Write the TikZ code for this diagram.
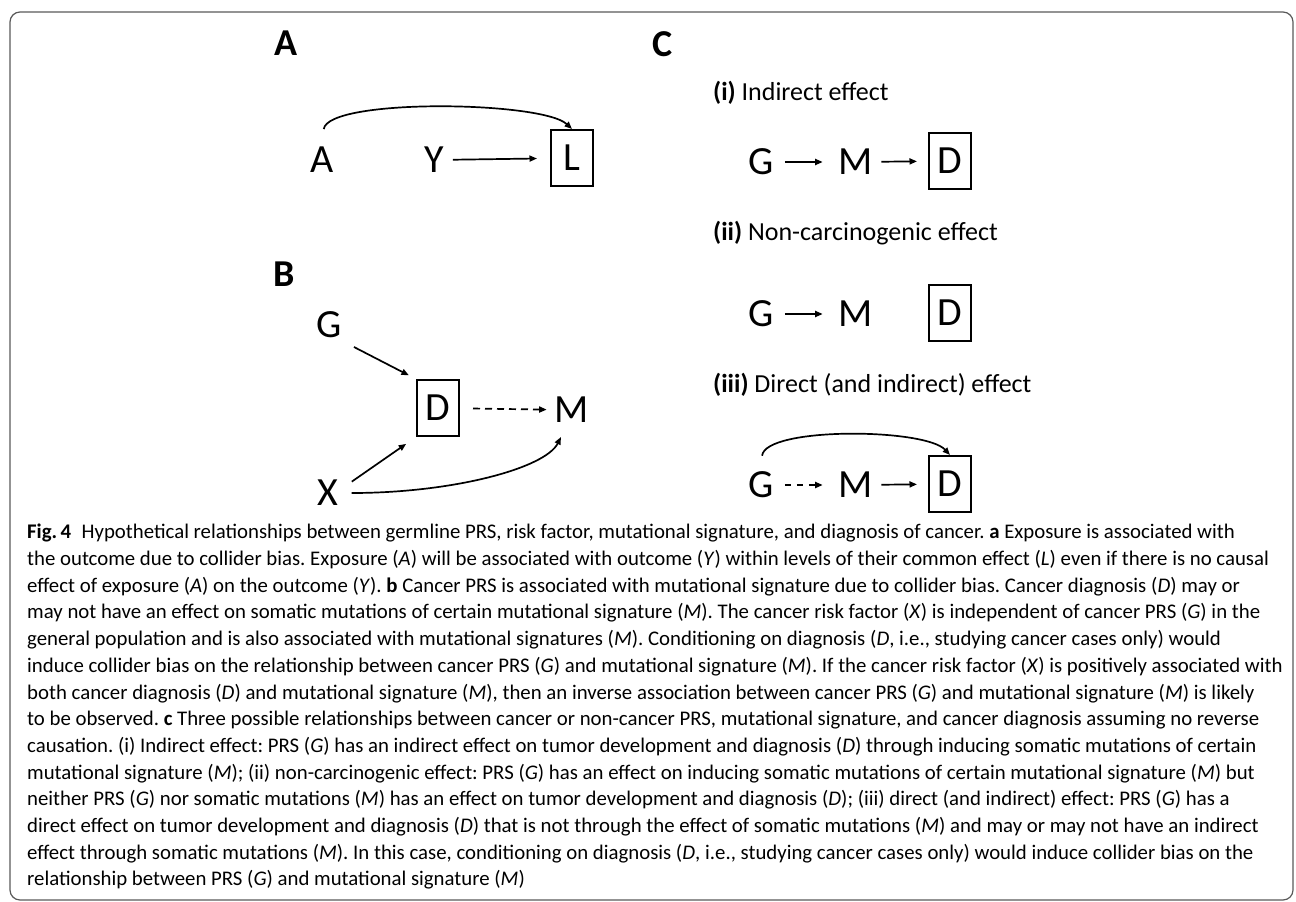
\documentclass[tikz,border=0pt]{standalone}
\usepackage{fontspec}
\setmainfont{Carlito}
\usetikzlibrary{arrows.meta}
\begin{document}
\frenchspacing
\begin{tikzpicture}[x=1pt,y=-1pt]
	\tikzstyle{var} = [font=\fontsize{40}{44}\selectfont, inner sep=5pt]
	\tikzstyle{boxed} = [var, draw, line width=2pt, minimum width=42pt, minimum height=56pt, inner sep=0pt]
	\tikzstyle{lbl} = [font=\fontsize{38}{42}\selectfont\bfseries, inner sep=0pt]
	\tikzstyle{subttl} = [font=\fontsize{26}{30}\selectfont, anchor=west, inner sep=0pt]
	\tikzstyle{arr} = [line width=1.7pt, -{Triangle[length=7.5pt,width=6pt]}]
	\tikzstyle{dsh} = [dash pattern=on 7pt off 5pt]

	\useasboundingbox (0,0) rectangle (1296,902);
	\draw [line width=1.2pt, black!65, rounded corners=10pt] (10,12) rectangle (1293,900);

	% panel A
	\node [lbl] (la) at (286,43) {A};
	\node [var] (aA) at (322,160) {A};
	\node [var] (aY) at (434,160) {Y};
	\node [boxed] (aL) at (572,158) {L};

	\draw [arr, shorten <=4pt, shorten >=13pt] (aY) -- (aL);
	\draw [arr, shorten <=13pt] (aA.north) .. controls +(6,-44) and +(-30,-28) .. (aL.north);

	% panel B
	\node [lbl] (lb) at (284,274) {B};
	\node [var] (bG) at (329,325) {G};
	\node [boxed] (bD) at (438,408) {D};
	\node [var] (bM) at (572,410) {M};
	\node [var] (bX) at (328,493) {X};

	\draw [arr, shorten <=8pt, shorten >=8pt] (bG.south east) -- (bD.north west);
	\draw [arr, shorten <=10pt, shorten >=12pt] (bX.20) -- (bD.south west);
	\draw [arr, dsh, shorten <=13pt, shorten >=3pt] (bD) -- (bM);
	\draw [arr, shorten <=8pt, shorten >=10pt] (bX.east) .. controls +(110,0) and +(-20,40) .. (bM.250);

	% panel C
	\node [lbl] (lc) at (663,44) {C};

	\node [subttl] (t1) at (713,93) {\textbf{(i)} Indirect effect};
	\node [var] (c1g) at (761,162) {G};
	\node [var] (c1m) at (856,162) {M};
	\node [boxed] (c1d) at (950,161) {D};
	\draw [arr, shorten <=6pt, shorten >=11pt] (c1g) -- (c1m);
	\draw [arr, shorten <=3pt, shorten >=11pt] (c1m) -- (c1d);

	\node [subttl] (t2) at (713,233) {\textbf{(ii)} Non-carcinogenic effect};
	\node [var] (c2g) at (761,314) {G};
	\node [var] (c2m) at (856,314) {M};
	\node [boxed] (c2d) at (950,313) {D};
	\draw [arr, shorten <=6pt, shorten >=11pt] (c2g) -- (c2m);

	\node [subttl] (t3) at (713,385) {\textbf{(iii)} Direct (and indirect) effect};
	\node [var] (c3g) at (761,485) {G};
	\node [var] (c3m) at (856,485) {M};
	\node [boxed] (c3d) at (950,484) {D};
	\draw [arr, dash pattern=on 6pt off 6pt, shorten <=6pt, shorten >=11pt] (c3g) -- (c3m);
	\draw [arr, shorten <=3pt, shorten >=11pt] (c3m) -- (c3d);
	\draw [arr, shorten <=11pt] (c3g.north) .. controls +(4,-40) and +(-25,-27) .. (c3d.north);

	% caption
	\node [anchor=north west, align=left, inner sep=0pt, font=\fontsize{20.8}{26.7}\selectfont] (cap) at (27,524) {%
\textbf{Fig.\,4}\enspace Hypothetical relationships between germline PRS, risk factor, mutational signature, and diagnosis of cancer. \textbf{a} Exposure is associated with\\
the outcome due to collider bias. Exposure (\textit{A}) will be associated with outcome (\textit{Y}) within levels of their common effect (\textit{L}) even if there is no causal\\
effect of exposure (\textit{A}) on the outcome (\textit{Y}). \textbf{b} Cancer PRS is associated with mutational signature due to collider bias. Cancer diagnosis (\textit{D}) may or\\
may not have an effect on somatic mutations of certain mutational signature (\textit{M}). The cancer risk factor (\textit{X}) is independent of cancer PRS (\textit{G}) in the\\
general population and is also associated with mutational signatures (\textit{M}). Conditioning on diagnosis (\textit{D}, i.e., studying cancer cases only) would\\
induce collider bias on the relationship between cancer PRS (\textit{G}) and mutational signature (\textit{M}). If the cancer risk factor (\textit{X}) is positively associated with\\
both cancer diagnosis (\textit{D}) and mutational signature (\textit{M}), then an inverse association between cancer PRS (\textit{G}) and mutational signature (\textit{M}) is likely\\
to be observed. \textbf{c} Three possible relationships between cancer or non-cancer PRS, mutational signature, and cancer diagnosis assuming no reverse\\
causation. (i) Indirect effect: PRS (\textit{G}) has an indirect effect on tumor development and diagnosis (\textit{D}) through inducing somatic mutations of certain\\
mutational signature (\textit{M}); (ii) non-carcinogenic effect: PRS (\textit{G}) has an effect on inducing somatic mutations of certain mutational signature (\textit{M}) but\\
neither PRS (\textit{G}) nor somatic mutations (\textit{M}) has an effect on tumor development and diagnosis (\textit{D}); (iii) direct (and indirect) effect: PRS (\textit{G}) has a\\
direct effect on tumor development and diagnosis (\textit{D}) that is not through the effect of somatic mutations (\textit{M}) and may or may not have an indirect\\
effect through somatic mutations (\textit{M}). In this case, conditioning on diagnosis (\textit{D}, i.e., studying cancer cases only) would induce collider bias on the\\
relationship between PRS (\textit{G}) and mutational signature (\textit{M})};
\end{tikzpicture}
\end{document}
